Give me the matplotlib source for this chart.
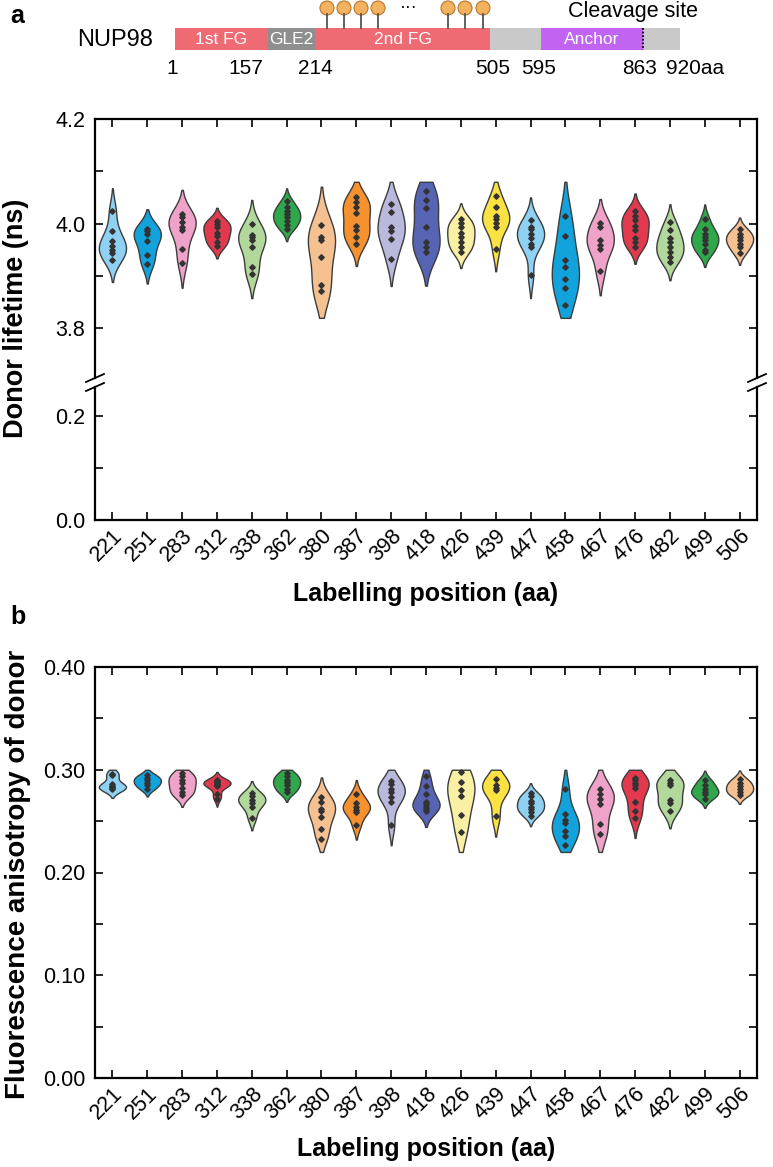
import numpy as np
import matplotlib
matplotlib.use("Agg")
import matplotlib.pyplot as plt
from matplotlib.patches import Rectangle, Circle
from matplotlib.ticker import MultipleLocator, FormatStrFormatter

plt.rcParams['font.family'] = ['Liberation Sans', 'DejaVu Sans']

# ---- data ----
positions = ['221', '251', '283', '312', '338', '362', '380', '387', '398', '418',
             '426', '439', '447', '458', '467', '476', '482', '499', '506']

lifetime = [
    [4.025, 3.985, 3.966, 3.957, 3.950, 3.943, 3.931],
    [3.990, 3.985, 3.980, 3.966, 3.941, 3.923],
    [4.018, 4.012, 4.004, 3.993, 3.988, 3.952, 3.924],
    [4.006, 3.999, 3.994, 3.983, 3.977, 3.964, 3.958],
    [3.999, 3.979, 3.975, 3.968, 3.955, 3.918, 3.904],
    [4.044, 4.031, 4.025, 4.018, 4.012, 4.006, 3.998, 3.990],
    [3.998, 3.974, 3.969, 3.936, 3.882, 3.871],
    [4.050, 4.041, 4.031, 4.020, 3.996, 3.987, 3.974, 3.962],
    [4.038, 4.022, 3.993, 3.985, 3.971, 3.933],
    [4.062, 4.045, 4.030, 3.994, 3.964, 3.955, 3.945],
    [4.009, 4.001, 3.993, 3.983, 3.974, 3.964, 3.955, 3.945],
    [4.053, 4.032, 4.015, 4.009, 4.002, 3.993, 3.952],
    [4.007, 3.994, 3.990, 3.980, 3.973, 3.962, 3.955, 3.901],
    [4.015, 3.977, 3.931, 3.917, 3.894, 3.877, 3.844],
    [4.001, 3.993, 3.968, 3.960, 3.952, 3.909],
    [4.025, 4.015, 4.007, 3.996, 3.988, 3.973, 3.964, 3.956],
    [4.003, 3.987, 3.973, 3.964, 3.955, 3.945, 3.937, 3.926],
    [4.009, 3.990, 3.981, 3.974, 3.969, 3.962, 3.950, 3.945],
    [3.990, 3.981, 3.975, 3.969, 3.962, 3.955, 3.943],
]

anisotropy = [
    [0.296, 0.295, 0.286, 0.284, 0.283, 0.282, 0.281],
    [0.295, 0.292, 0.290, 0.287, 0.285, 0.281],
    [0.297, 0.294, 0.290, 0.287, 0.282, 0.278, 0.275],
    [0.290, 0.289, 0.288, 0.287, 0.286, 0.285, 0.284, 0.276, 0.272],
    [0.277, 0.274, 0.271, 0.268, 0.264, 0.253],
    [0.297, 0.294, 0.290, 0.288, 0.285, 0.281, 0.278],
    [0.273, 0.269, 0.262, 0.260, 0.254, 0.242, 0.233],
    [0.276, 0.268, 0.264, 0.261, 0.259, 0.246],
    [0.289, 0.286, 0.281, 0.278, 0.273, 0.269, 0.246],
    [0.294, 0.284, 0.276, 0.269, 0.267, 0.264, 0.262, 0.260],
    [0.298, 0.288, 0.280, 0.274, 0.256, 0.239],
    [0.291, 0.285, 0.282, 0.280, 0.255],
    [0.277, 0.274, 0.270, 0.268, 0.264, 0.262, 0.259, 0.255],
    [0.281, 0.257, 0.251, 0.248, 0.240, 0.236, 0.227],
    [0.281, 0.276, 0.272, 0.267, 0.247, 0.237],
    [0.292, 0.290, 0.287, 0.285, 0.282, 0.269, 0.260, 0.253],
    [0.290, 0.287, 0.285, 0.271, 0.268, 0.260],
    [0.290, 0.285, 0.281, 0.278, 0.276, 0.272],
    [0.291, 0.287, 0.284, 0.281, 0.278, 0.275],
]

palette = ['#8ed1f2', '#13a3dc', '#f0a3c8', '#e2394f', '#b3d89c', '#2ea84a',
           '#f6c191', '#f5922f', '#b9b9de', '#5763b3', '#faf0a4', '#fbe243']
violin_colors = [palette[i % 12] for i in range(len(positions))]

# NUP98 domain map
domain_names = ['1st FG', 'GLE2', '2nd FG', '', 'Anchor', '']
domain_aa = [1, 157, 214, 505, 595, 863, 920]
domain_colors = ['#ef6b73', '#8f8f8f', '#ef6b73', '#c9c9c9', '#c164f2', '#c9c9c9']
aa_labels = ['1', '157', '214', '505', '595', '863', '920aa']
cleavage_aa = 863

# ---- layout ----
W, H = 773, 1167
bar_px = [175, 268, 315, 490, 541, 643, 680]   # drawing x of domain_aa (not to scale)
label_px = [172, 246, 315, 493, 539, 640, 695]
pin_px = [327, 344, 361, 378, 448, 465, 483]


def fy(y):
    return 1 - y / H


def draw_violins(ax, samples, colors, lo, hi, width=0.78):
    for i, (vals, c) in enumerate(zip(samples, colors)):
        v = np.asarray(vals)
        bw = v.std(ddof=1) * len(v) ** (-1 / 5)
        y = np.linspace(max(v.min() - 2 * bw, lo), min(v.max() + 2 * bw, hi), 200)
        d = np.exp(-0.5 * ((y[:, None] - v[None, :]) / bw) ** 2).sum(1)
        half = d / d.max() * width / 2
        ax.fill_betweenx(y, i - half, i + half, facecolor=c, edgecolor='#3c3c3c',
                         lw=1.0, zorder=2)
        ax.plot(np.full(len(v), i), v, 'D', ms=2.8, color='#333333', zorder=3)


def style_axis(ax):
    for s in ax.spines.values():
        s.set_linewidth(1.6)
    ax.tick_params(which='both', direction='in', length=6, width=1.2,
                   labelsize=15.5, pad=7, top=True, right=True)
    ax.set_xlim(-0.5, len(positions) - 0.5)
    ax.set_xticks(range(len(positions)))


def xlabels(ax):
    ax.set_xticklabels(positions, rotation=45, ha='right', rotation_mode='anchor',
                       fontsize=15.5)
    ax.tick_params(axis='x', pad=4)


fig = plt.figure(figsize=(W / 100, H / 100), dpi=100)

# ---- domain diagram ----
axd = fig.add_axes([0, fy(110), 1, 110 / H])
axd.set_xlim(0, W)
axd.set_ylim(110, 0)
axd.axis('off')
for k, name in enumerate(domain_names):
    x0 = np.interp(domain_aa[k], domain_aa, bar_px)
    x1 = np.interp(domain_aa[k + 1], domain_aa, bar_px)
    axd.add_patch(Rectangle((x0, 28), x1 - x0, 22, facecolor=domain_colors[k],
                            edgecolor='none'))
    if name:
        axd.text((x0 + x1) / 2, 39.5, name, color='white', fontsize=12.5,
                 ha='center', va='center')
xc = np.interp(cleavage_aa, domain_aa, bar_px)
axd.plot([xc, xc], [28, 50], color='black', lw=1.3, ls=(0, (1, 1)))
for lab, x in zip(aa_labels, label_px):
    axd.text(x, 69, lab, fontsize=15, ha='center', va='center')
for x in pin_px:
    axd.plot([x, x], [14, 28], color='#555555', lw=1.3)
    axd.add_patch(Circle((x, 8), 7, facecolor='#f3b25e', edgecolor='#b8752a', lw=0.8))
axd.text(409, 12, '···', fontsize=13, ha='center', va='baseline')
axd.text(633, 11, 'Cleavage site', fontsize=15.5, ha='center', va='center')
axd.text(153, 40, 'NUP98', fontsize=17, ha='right', va='center')
axd.text(10, 16, 'a', fontsize=18, fontweight='bold', ha='left', va='center')

# ---- panel a: donor lifetime with broken axis ----
left, width = 95 / W, 662 / W
ax_hi = fig.add_axes([left, fy(378), width, (378 - 119) / H])
ax_lo = fig.add_axes([left, fy(520), width, (520 - 387) / H], sharex=ax_hi)
draw_violins(ax_hi, lifetime, violin_colors, 3.82, 4.08)
for ax in (ax_hi, ax_lo):
    style_axis(ax)
ax_hi.set_ylim(3.705, 4.2)
ax_lo.set_ylim(0, 0.256)
ax_hi.yaxis.set_major_locator(MultipleLocator(0.2))
ax_hi.yaxis.set_minor_locator(MultipleLocator(0.1))
ax_lo.yaxis.set_major_locator(MultipleLocator(0.2))
ax_lo.yaxis.set_minor_locator(MultipleLocator(0.1))
for ax in (ax_hi, ax_lo):
    ax.yaxis.set_major_formatter(FormatStrFormatter('%.1f'))
ax_hi.spines['bottom'].set_visible(False)
ax_lo.spines['top'].set_visible(False)
ax_hi.tick_params(axis='x', bottom=False, labelbottom=False)
ax_lo.tick_params(axis='x', top=False)
xlabels(ax_lo)
for xs in (95, 757):
    for ys in (378, 387):
        fig.add_artist(plt.Line2D([(xs - 9) / W, (xs + 9) / W], [fy(ys + 4), fy(ys - 4)],
                                  color='black', lw=1.3))
fig.text(16 / W, fy(318), 'Donor lifetime (ns)', rotation=90, fontsize=19.5,
         fontweight='bold', ha='center', va='center')
fig.text(426 / W, fy(594), 'Labelling position (aa)', fontsize=18,
         fontweight='bold', ha='center', va='center')

# ---- panel b: anisotropy ----
ax_b = fig.add_axes([left, fy(1078), width, (1078 - 667) / H])
draw_violins(ax_b, anisotropy, violin_colors, 0.22, 0.30)
style_axis(ax_b)
ax_b.set_ylim(0, 0.40)
ax_b.yaxis.set_major_locator(MultipleLocator(0.1))
ax_b.yaxis.set_minor_locator(MultipleLocator(0.05))
ax_b.yaxis.set_major_formatter(FormatStrFormatter('%.2f'))
xlabels(ax_b)
fig.text(18 / W, fy(874), 'Fluorescence anisotropy of donor', rotation=90, fontsize=20,
         fontweight='bold', ha='center', va='center')
fig.text(426 / W, fy(1149), 'Labeling position (aa)', fontsize=18,
         fontweight='bold', ha='center', va='center')
fig.text(10 / W, fy(617), 'b', fontsize=18, fontweight='bold', ha='left', va='center')

fig.savefig('out.png', dpi=100)
